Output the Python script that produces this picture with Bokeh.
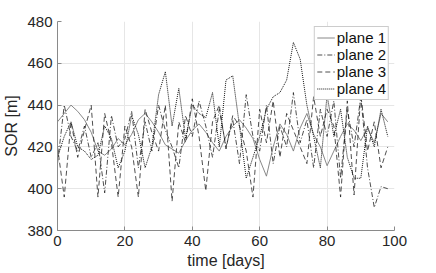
from bokeh.plotting import figure
from bokeh.embed import file_html
from bokeh.resources import INLINE
from bokeh.models import Range1d, FixedTicker

days = list(range(0, 100, 2))

plane1 = [432, 436, 440, 437, 433, 427, 418, 416, 419, 424,
          421, 426, 433, 436, 432, 427, 421, 419, 417, 423,
          428, 431, 427, 422, 418, 425, 430, 433, 429, 424,
          414, 406, 420, 431, 426, 418, 429, 436, 426, 420,
          411, 418, 425, 431, 428, 423, 429, 422, 436, 432]

plane2 = [412, 440, 425, 418, 430, 415, 422, 398, 435, 420,
          424, 437, 410, 432, 418, 440, 428, 420, 410, 435,
          425, 442, 430, 415, 438, 420, 433, 412, 445, 425,
          418, 440, 412, 430, 420, 446, 422, 433, 410, 438,
          425, 442, 405, 438, 420, 444, 410, 391, 401, 400]

plane3 = [420, 396, 432, 415, 428, 440, 396, 436, 422, 396,
          430, 420, 396, 438, 427, 418, 440, 394, 432, 422,
          443, 425, 399, 432, 440, 419, 435, 430, 418, 396,
          438, 422, 442, 415, 436, 428, 420, 412, 444, 425,
          438, 430, 396, 442, 397, 445, 418, 432, 410, 420]

plane4 = [415, 425, 432, 420, 418, 414, 416, 430, 424, 410,
          418, 435, 426, 410, 420, 445, 456, 430, 448, 424,
          440, 436, 434, 446, 420, 452, 454, 430, 405, 415,
          425, 438, 444, 446, 452, 470, 462, 440, 425, 410,
          445, 425, 438, 415, 405, 405, 430, 420, 438, 425]

labels = ["plane 1", "plane 2", "plane 3", "plane 4"]
x_ticks = [0, 20, 40, 60, 80, 100]
y_ticks = [380, 400, 420, 440, 460, 480]

p = figure(width=420, height=271, output_backend="svg", toolbar_location=None,
           x_range=Range1d(0, 100), y_range=Range1d(380, 480),
           min_border_left=54, min_border_right=26, min_border_top=21, min_border_bottom=41)
p.outline_line_color = None
p.background_fill_color = "white"

font = "Liberation Sans"
styles = [
    dict(color="#7a7a7a", line_dash="solid", line_width=0.9),
    dict(color="#222222", line_dash="5 2 1 2", line_width=0.8),
    dict(color="#222222", line_dash="5 3", line_width=0.8),
    dict(color="#111111", line_dash="1 1", line_width=1.0),
]
for ys, lab, st in zip([plane1, plane2, plane3, plane4], labels, styles):
    p.line(days, ys, legend_label=lab, line_color=st["color"],
           line_dash=st["line_dash"], line_width=st["line_width"])

for ax in (p.xaxis[0], p.yaxis[0]):
    ax.axis_line_color = "#8a8a8a"
    ax.major_tick_line_color = "#8a8a8a"
    ax.major_tick_in = 4
    ax.major_tick_out = 0
    ax.minor_tick_line_color = None
    ax.major_label_text_font = font
    ax.major_label_text_font_size = "15px"
    ax.major_label_text_color = "#262626"
    ax.axis_label_text_font = font
    ax.axis_label_text_font_size = "16px"
    ax.axis_label_text_font_style = "normal"
    ax.axis_label_text_color = "#262626"

p.xaxis[0].ticker = FixedTicker(ticks=x_ticks)
p.yaxis[0].ticker = FixedTicker(ticks=y_ticks)
p.xaxis[0].axis_label = "time [days]"
p.yaxis[0].axis_label = "SOR [m]"
p.xaxis[0].major_label_standoff = 5
p.yaxis[0].major_label_standoff = 5
p.xaxis[0].axis_label_standoff = 3
p.yaxis[0].axis_label_standoff = 4

p.xgrid.grid_line_color = "#e6e6e6"
p.ygrid.grid_line_color = "#e6e6e6"

lg = p.legend[0]
lg.location = "top_right"
lg.margin = 5
lg.padding = 2
lg.spacing = 0
lg.label_text_font = font
lg.label_text_font_size = "15px"
lg.label_text_color = "#111111"
lg.label_height = 17
lg.glyph_height = 17
lg.glyph_width = 18
lg.label_standoff = 2
lg.border_line_color = "#999999"
lg.background_fill_alpha = 1.0

open("out.html", "w").write(file_html(p, INLINE))
